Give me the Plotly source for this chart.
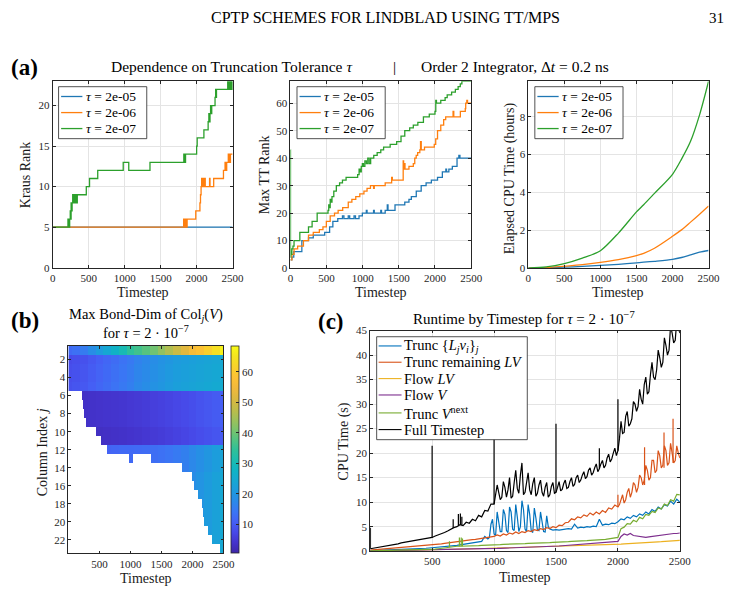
import numpy as np
import plotly.graph_objects as go

W, H = 749, 616
def X(px): return px / W
def Y(py): return 1 - py / H

FONT = "Liberation Serif"
AXC = "#262626"
GRID = "#e4e4e4"

# ---------------- data: panel (a) ----------------
tau_labels = ["2e-05", "2e-06", "2e-07"]
col_a = ["#1f77b4", "#ff7f0e", "#2ca02c"]

# Kraus rank (step changes)
kr_t1 = [0, 2500]
kr_v1 = [5, 5]
kr_t2 = [0, 1820, 1828, 1836, 1844, 1852, 1860, 1868, 1988, 2046, 2054, 2062, 2070, 2080, 2090,
         2100, 2110, 2120, 2180, 2186, 2237, 2373, 2395, 2402, 2418, 2440, 2447, 2454, 2462, 2470, 2500]
kr_v2 = [5, 6, 5, 6, 5, 6, 5, 6, 7, 8, 9, 10, 11, 10, 11,
         10, 11, 10, 11, 10, 11, 12, 13, 12, 13, 14, 13, 14, 13, 14, 14]
kr_t3 = [0, 212, 218, 224, 230, 236, 244, 250, 256, 262, 270, 278, 286, 294, 302, 310, 318, 326, 334, 342,
         354, 467, 512, 626, 980, 1057, 1352, 1822, 1828, 1834, 1840, 1846, 1852, 2000, 2008, 2101, 2160,
         2170, 2178, 2186, 2194, 2202, 2210, 2256, 2264, 2270, 2276, 2283, 2432, 2440, 2448, 2456, 2464,
         2472, 2480, 2488, 2496, 2500]
kr_v3 = [5, 6, 5, 6, 5, 6, 7, 6, 8, 7, 8, 9, 8, 9, 8, 9, 8, 9, 8, 9,
         9, 10, 11, 12, 13, 12, 13, 14, 13, 14, 13, 14, 14, 15, 16, 17, 18,
         19, 18, 19, 20, 19, 20, 21, 22, 21, 22, 22, 23, 22, 23, 22, 23,
         22, 23, 22, 23, 23]

# Max TT rank (step changes)
tt_t1 = [0, 20, 46, 158, 250, 316, 474, 542, 587, 655, 720, 740, 800, 820, 880, 900, 949, 995, 1050, 1060,
         1150, 1160, 1250, 1260, 1311, 1340, 1350, 1447, 1500, 1582, 1640, 1673, 1741, 1809, 1877, 1950,
         2035, 2102, 2150, 2160, 2192, 2240, 2305, 2330, 2345, 2500]
tt_v1 = [3, 4, 6, 10, 11, 12, 13, 15, 17, 18, 19, 18, 19, 18, 19, 18, 19, 20, 21, 20,
         21, 20, 21, 20, 21, 23, 21, 23, 23, 24, 25, 26, 28, 30, 31, 32,
         33, 35, 36, 35, 36, 37, 40, 41, 40, 40]
tt_t2 = [0, 20, 50, 100, 180, 250, 316, 400, 450, 497, 550, 610, 660, 723, 800, 850, 904, 960, 1017, 1060,
         1107, 1150, 1160, 1311, 1400, 1410, 1480, 1560, 1566, 1572, 1585, 1640, 1700, 1720, 1740, 1760,
         1790, 1800, 1810, 1855, 1990, 2010, 2035, 2080, 2120, 2148, 2250, 2260, 2351, 2419, 2425, 2440,
         2450, 2500]
tt_v2 = [3, 5, 7, 8, 10, 12, 13, 14, 15, 17, 19, 20, 21, 22, 24, 25, 26, 27, 28, 29,
         30, 29, 30, 31, 33, 32, 32, 39, 36, 38, 36, 37, 38, 40, 41, 42,
         43, 46, 43, 44, 45, 47, 50, 52, 54, 55, 57, 55, 57, 58, 60, 61,
         60, 60]
tt_t3 = [0, 1, 4, 10, 20, 35, 50, 130, 250, 300, 370, 520, 530, 540, 550, 560, 575, 600, 635, 680,
         720, 770, 930, 950, 965, 980, 995, 1010, 1030, 1050, 1070, 1090, 1110, 1153, 1200, 1250, 1289,
         1380, 1470, 1530, 1582, 1650, 1700, 1763, 1840, 1921, 2000, 2011, 2020, 2080, 2140, 2169, 2230,
         2282, 2320, 2350, 2372, 2500]
tt_v3 = [43, 4, 6, 5, 7, 8, 10, 13, 15, 17, 20, 21, 23, 22, 25, 24, 26, 28, 30, 31,
         32, 33, 34, 36, 35, 37, 38, 37, 39, 38, 40, 38, 40, 41, 42, 43, 44,
         45, 46, 48, 50, 51, 52, 53, 55, 56, 57, 61, 60, 61, 62, 63, 64,
         65, 66, 67, 68, 68]

# Elapsed CPU time (hours)
cpu_t = [0, 250, 500, 750, 1000, 1250, 1500, 1600, 1750, 2000, 2125, 2250, 2375, 2500]
cpu_1 = [0, 0.02, 0.05, 0.09, 0.14, 0.2, 0.28, 0.31, 0.36, 0.46, 0.56, 0.7, 0.84, 0.93]
cpu_2 = [0, 0.03, 0.1, 0.18, 0.3, 0.45, 0.66, 0.78, 1.05, 1.68, 2.02, 2.43, 2.85, 3.28]
cpu_3 = [0, 0.06, 0.24, 0.53, 0.92, 1.85, 2.97, 3.35, 3.95, 4.96, 5.76, 6.7, 8.1, 9.88]

# ---------------- data: panel (b) ----------------
hm_step = 125  # profile sampling (timesteps)
hm_A = [12, 13, 15, 18, 21, 24, 27, 30, 34, 36, 38, 40, 43, 46, 49, 52, 56, 58, 61, 64, 67]
hm_B = [8, 8.5, 9, 10, 11, 12, 13, 14, 15, 16.5, 17.5, 18.5, 19.5, 20.5, 21.5, 22, 22.5, 23, 23.5, 24, 24.5]
hm_C = [3, 3, 3, 3.2, 3.4, 3.6, 3.8, 4, 4.3, 4.6, 5, 5.4, 5.8, 6.2, 6.7, 7.2, 7.8, 8.4, 9, 9.6, 10.2]
hm_D = [11, 11, 11, 11, 11, 11, 11.5, 12, 12, 12.2, 12.4, 12.8, 13.2, 13.8, 14.6, 15.6, 17, 18.5, 20, 21.5, 23]
row_group = ["A", "B", "B", "B", "B", "C", "C", "C", "C", "C", "C",
             "D", "D", "D", "D", "D", "D", "D", "D", "D", "D", "D", "D"]
row_offset = [0, -0.5, 0, 0, 0.5, 0.3, 0.3, 0.3, 0.3, -0.5, -0.5,
              0, 0, 0, 1, 1, 1, 1, 1, 1, 1, 1, 1]
row_start = [0, 0, 0, 0, 0, 221, 237, 263, 289, 447, 516, 616, 974, 1832,
             2000, 2016, 2095, 2147, 2168, 2195, 2263, 2316, 2447]
row13_gap = [1053, 1342]

# ---------------- data: panel (c) ----------------
c_t = np.arange(0, 2501, 25)
c_blue = [0.1, 0.12, 0.15, 0.17, 0.2, 0.22, 0.25, 0.28, 0.3, 0.33,
          0.35, 0.38, 0.4, 0.43, 0.45, 0.5, 0.52, 0.55, 0.6, 0.65,
          0.7, 0.75, 0.8, 0.85, 0.9, 1.0, 1.05, 1.1, 1.2, 1.3,
          1.4, 1.5, 1.55, 1.6, 1.7, 1.8, 2.0, 3.0, 2.5, 5.5,
          3.5, 8.0, 4.0, 8.5, 4.2, 9.0, 4.5, 9.5, 4.0, 10.3,
          4.5, 9.5, 4.2, 8.8, 4.3, 8.0, 4.0, 7.2, 4.5, 4.3,
          4.4, 4.3, 4.4, 4.5, 4.6, 4.5, 5.5, 4.7, 4.9, 4.8,
          5.0, 4.9, 5.1, 5.0, 6.5, 5.3, 5.5, 5.4, 5.7, 5.6,
          6.0, 6.6, 6.4, 7.0, 6.7, 7.3, 7.0, 7.6, 7.3, 8.0,
          7.6, 8.5, 8.1, 9.0, 8.6, 9.5, 9.2, 10.2, 9.6, 10.6,
          10.0]
c_blue_mid_t = np.arange(962.5, 1450, 25)
c_blue_mid = [2.8, 6.5, 3.2, 6.0, 4.0, 7.5, 3.8, 8.0, 4.2, 7.0,
              5.0, 8.5, 4.0, 7.5, 3.8, 6.8, 4.2, 6.0, 3.9, 5.0]
c_orange = [0.2, 0.25, 0.3, 0.35, 0.4, 0.45, 0.5, 0.55, 0.6, 0.65,
            0.7, 0.75, 0.8, 0.85, 0.9, 0.95, 1.0, 1.05, 1.1, 1.15,
            1.2, 1.3, 1.4, 1.5, 1.6, 1.7, 1.8, 1.9, 2.0, 2.1,
            2.1, 2.2, 2.3, 2.35, 2.4, 2.5, 2.6, 2.7, 2.8, 2.9,
            3.0, 3.3, 3.1, 3.5, 3.3, 3.7, 3.5, 3.9, 3.6, 4.0,
            3.8, 4.2, 4.0, 4.4, 4.2, 4.6, 4.4, 4.8, 4.6, 5.0,
            4.8, 5.3, 5.2, 5.8, 5.9, 6.6, 6.4, 7.0, 6.8, 7.4,
            7.1, 7.8, 7.4, 8.0, 7.6, 8.3, 7.9, 8.8, 8.6, 9.4,
            9.0, 10.5, 9.8, 12.0, 11.0, 14.0, 12.0, 15.5, 13.5, 17.5,
            14.5, 18.5, 16.0, 20.5, 17.0, 21.5, 17.5, 22.0, 18.0, 21.5,
            19.0]
c_orange_mid_t = np.arange(2012.5, 2500, 25)
c_orange_mid = [9.5, 11.5, 10.5, 12.8, 12.0, 13.5, 13.0, 15.0, 14.5, 16.5,
                15.0, 18.5, 16.5, 19.5, 17.5, 20.5, 18.0, 19.5, 18.5, 20.0]
c_yellow = [0.02, 0.03, 0.04, 0.05, 0.06, 0.07, 0.08, 0.09, 0.1, 0.11,
            0.12, 0.13, 0.14, 0.15, 0.16, 0.17, 0.18, 0.19, 0.2, 0.21,
            0.22, 0.24, 0.26, 0.28, 0.3, 0.32, 0.33, 0.35, 0.36, 0.38,
            0.4, 0.42, 0.44, 0.46, 0.48, 0.5, 0.52, 0.54, 0.56, 0.58,
            0.6, 0.62, 0.64, 0.66, 0.68, 0.7, 0.72, 0.74, 0.76, 0.78,
            0.8, 0.81, 0.82, 0.83, 0.84, 0.85, 0.86, 0.87, 0.88, 0.89,
            0.9, 0.92, 0.94, 0.96, 0.98, 1.0, 1.02, 1.04, 1.06, 1.08,
            1.1, 1.13, 1.16, 1.19, 1.22, 1.25, 1.28, 1.31, 1.34, 1.37,
            1.4, 1.45, 1.5, 1.55, 1.6, 1.63, 1.66, 1.7, 1.73, 1.76,
            1.8, 1.83, 1.86, 1.9, 1.93, 1.96, 2.0, 2.05, 2.1, 2.15,
            2.2]
c_purple = [0.05, 0.06, 0.07, 0.08, 0.09, 0.1, 0.1, 0.11, 0.12, 0.13,
            0.13, 0.14, 0.15, 0.15, 0.16, 0.17, 0.17, 0.18, 0.19, 0.2,
            0.2, 0.22, 0.23, 0.25, 0.27, 0.28, 0.3, 0.32, 0.34, 0.36,
            0.37, 0.39, 0.4, 0.42, 0.43, 0.45, 0.46, 0.47, 0.48, 0.5,
            0.52, 0.55, 0.58, 0.6, 0.62, 0.65, 0.68, 0.7, 0.73, 0.75,
            0.78, 0.8, 0.83, 0.85, 0.88, 0.9, 0.92, 0.95, 0.97, 1.0,
            1.02, 1.05, 1.1, 1.15, 1.2, 1.22, 1.25, 1.3, 1.35, 1.38,
            1.42, 1.45, 1.5, 1.55, 1.6, 1.65, 1.7, 1.75, 1.8, 1.9,
            2.0, 3.0, 3.5, 3.3, 3.6, 3.2, 3.1, 2.9, 2.8, 2.8,
            2.9, 3.0, 3.1, 3.2, 3.3, 3.4, 3.4, 3.5, 3.6, 3.6,
            3.7]
c_green = [0.05, 0.06, 0.07, 0.08, 0.09, 0.1, 0.11, 0.12, 0.13, 0.14,
           0.15, 0.16, 0.17, 0.18, 0.2, 0.21, 0.22, 0.24, 0.26, 0.28,
           0.3, 0.4, 0.5, 0.6, 0.7, 0.8, 0.85, 0.9, 1.0, 1.0,
           1.0, 1.0, 1.05, 1.1, 1.1, 1.15, 1.2, 1.2, 1.25, 1.3,
           1.3, 1.35, 1.35, 1.4, 1.4, 1.45, 1.45, 1.5, 1.5, 1.55,
           1.55, 1.6, 1.6, 1.65, 1.65, 1.7, 1.7, 1.75, 1.75, 1.8,
           1.8, 1.85, 1.9, 1.9, 1.95, 2.0, 2.0, 2.05, 2.1, 2.1,
           2.15, 2.2, 2.2, 2.25, 2.3, 2.35, 2.4, 2.5, 2.6, 2.7,
           2.8, 4.6, 4.9, 5.6, 5.5, 6.3, 6.0, 6.9, 6.6, 7.5,
           7.3, 8.1, 7.9, 8.8, 8.6, 9.6, 9.3, 10.5, 10.2, 11.6,
           11.5]
c_black = [0.5, 0.6, 0.7, 0.8, 0.9, 1.0, 1.1, 1.2, 1.4, 1.5,
           1.7, 1.8, 2.0, 2.1, 2.2, 2.3, 2.4, 2.5, 2.6, 2.7,
           2.8, 3.1, 3.3, 3.6, 3.8, 4.1, 4.5, 4.8, 5.0, 5.4,
           5.2, 5.9, 5.7, 6.5, 6.2, 7.3, 7.0, 8.3, 8.2, 9.6,
           9.6, 13.5, 10.5, 14.2, 11.0, 15.0, 11.2, 16.5, 11.8, 18.0,
           12.0, 16.0, 11.5, 15.0, 11.8, 14.5, 11.2, 14.0, 11.5, 14.0,
           12.0, 14.2, 12.6, 14.5, 13.0, 15.0, 13.6, 15.5, 14.5, 16.2,
           15.2, 17.0, 16.0, 17.8, 16.8, 18.5, 17.5, 19.8, 18.8, 21.0,
           20.5, 26.5, 24.2, 28.5, 26.0, 30.5, 28.5, 33.0, 30.0, 35.5,
           32.5, 38.5, 35.0, 41.0, 37.5, 43.5, 40.0, 46.0, 42.5, 47.0,
           44.5]
c_black_mid_t = np.arange(1012.5, 2500, 25)
c_black_mid = [11.5, 12.0, 11.0, 13.0, 12.5, 10.8, 14.0, 12.8, 15.5, 11.5,
               14.0, 12.5, 13.8, 11.2, 13.5, 12.0, 13.0, 11.0, 13.2, 11.8,
               13.0, 12.3, 13.8, 12.8, 14.2, 13.2, 15.0, 14.0, 15.5, 14.8,
               16.5, 15.5, 17.0, 16.2, 17.8, 17.0, 19.0, 18.2, 20.0, 19.5,
               23.0, 24.0, 27.5, 25.5, 27.0, 30.0, 29.5, 31.0, 34.0, 32.0,
               36.0, 35.5, 37.0, 39.5, 38.5, 42.0, 41.0, 44.5, 43.0, 45.5]
# isolated one-step spikes (timestep, base, peak)
spk_black_t = [2, 500, 670, 712, 728, 740, 1000, 1500, 1850, 2000]
spk_black_lo = [0.5, 2.8, 4.7, 5.2, 5.4, 5.3, 9.6, 12.0, 16.8, 20.5]
spk_black_hi = [4.8, 21.5, 6.5, 7.6, 7.7, 7.0, 22.9, 26.0, 21.0, 31.0]
spk_orange_t = [2000, 2215, 2372, 2445]
spk_orange_lo = [9.0, 13.5, 17.0, 18.0]
spk_orange_hi = [11.5, 21.2, 24.2, 27.0]
spk_green_t = [640, 720, 735, 745]
spk_green_lo = [0.8, 1.0, 1.0, 1.0]
spk_green_hi = [2.0, 2.8, 2.8, 2.6]

c_labels = ["Trunc {<i>L<sub>j</sub>v<sub>i</sub></i>}<sub><i>j</i></sub>",
            "Trunc remaining <i>LV</i>",
            "Flow <i>LV</i>",
            "Flow <i>V</i>",
            "Trunc <i>V</i><sup>next</sup>",
            "Full Timestep"]
c_colors = ["#0072BD", "#D95319", "#EDB120", "#7E2F8E", "#77AC30", "#000000"]

# ---------------- figure ----------------
fig = go.Figure()

def line(x, y, ax, color, width=1.3, shape="linear"):
    fig.add_trace(go.Scatter(x=x, y=y, mode="lines", xaxis="x" + ax, yaxis="y" + ax,
                             line=dict(color=color, width=width, shape=shape),
                             showlegend=False, hoverinfo="skip"))

def merged(t_main, v_main, t_extra, v_extra):
    tt = np.concatenate([np.asarray(t_main, float), np.asarray(t_extra, float)])
    vv = np.concatenate([np.asarray(v_main, float), np.asarray(v_extra, float)])
    order = np.argsort(tt, kind="stable")
    return tt[order], vv[order]

for t, v, c in zip([kr_t1, kr_t2, kr_t3], [kr_v1, kr_v2, kr_v3], col_a):
    line(t, v, "", c, 1.3, "hv")
for t, v, c in zip([tt_t1, tt_t2, tt_t3], [tt_v1, tt_v2, tt_v3], col_a):
    line(t, v, "2", c, 1.3, "hv")
for v, c in zip([cpu_1, cpu_2, cpu_3], col_a):
    fig.add_trace(go.Scatter(x=cpu_t, y=v, mode="lines", xaxis="x3", yaxis="y3",
                             line=dict(color=c, width=1.3, shape="spline", smoothing=0.8),
                             showlegend=False, hoverinfo="skip"))

# heatmap
prof = {"A": hm_A, "B": hm_B, "C": hm_C, "D": hm_D}
hm_x = np.arange(5, 2500, 10)
rows = list(range(1, 24))
z = []
for j in range(23):
    r = []
    for t in hm_x:
        on = t >= row_start[j]
        if j == 12 and row13_gap[0] <= t < row13_gap[1]:
            on = False
        k = int(round(t / hm_step))
        r.append(prof[row_group[j]][k] + row_offset[j] if on else None)
    z.append(r)

parula = [[0.00, "#3e26a8"], [0.05, "#4433cc"], [0.10, "#4748e8"], [0.15, "#4560f5"],
          [0.20, "#3a76f4"], [0.25, "#2a8ae8"], [0.30, "#1e9ade"], [0.35, "#16a8d2"],
          [0.40, "#0fb4c4"], [0.45, "#1cbcae"], [0.50, "#30c098"], [0.55, "#55c380"],
          [0.60, "#7ec36a"], [0.65, "#a2c058"], [0.70, "#c2bc48"], [0.75, "#ddb840"],
          [0.80, "#f2b93c"], [0.85, "#fdc234"], [0.90, "#f9d22a"], [0.95, "#f4e420"],
          [1.00, "#f9fb14"]]

fig.add_trace(go.Heatmap(x=hm_x, y=rows, z=z, colorscale=parula, zmin=0.4, zmax=68.4,
                         xaxis="x4", yaxis="y4", hoverinfo="skip",
                         colorbar=dict(x=X(233), xanchor="left", xpad=0,
                                       y=Y(558.3), yanchor="bottom", ypad=0,
                                       len=(558.3 - 346.7) / H, lenmode="fraction",
                                       thickness=8, thicknessmode="pixels",
                                       outlinewidth=0.8, outlinecolor=AXC,
                                       tickvals=[10, 20, 30, 40, 50, 60], ticks="inside",
                                       ticklen=3, tickcolor=AXC,
                                       tickfont=dict(family=FONT, size=11, color=AXC))))

# panel (c)
bt, bv = merged(c_t, c_blue, c_blue_mid_t, c_blue_mid)
ot, ov = merged(c_t, c_orange, c_orange_mid_t, c_orange_mid)
kt, kv = merged(c_t, c_black, c_black_mid_t, c_black_mid)
c_series = [(bt, bv), (ot, ov), (c_t, c_yellow), (c_t, c_purple), (c_t, c_green), (kt, kv)]
for (t, v), c in zip(c_series, c_colors):
    line(t, v, "5", c, 1.2)
for ts, lo, hi, c in [(spk_orange_t, spk_orange_lo, spk_orange_hi, c_colors[1]),
                      (spk_green_t, spk_green_lo, spk_green_hi, c_colors[4]),
                      (spk_black_t, spk_black_lo, spk_black_hi, c_colors[5])]:
    xs, ys = [], []
    for t, a, b in zip(ts, lo, hi):
        xs += [t, t, None]
        ys += [a, b, None]
    line(xs, ys, "5", c, 1.2)

# ---------------- axes ----------------
def ax(dom_px, rng, tickvals, anchor, grid=True, horizontal=True):
    if horizontal:
        dom = [X(dom_px[0]), X(dom_px[1])]
    else:
        dom = [Y(dom_px[1]), Y(dom_px[0])]
    return dict(domain=dom, range=rng, tickvals=tickvals, anchor=anchor,
                showline=True, mirror="ticks", linecolor=AXC, linewidth=0.8,
                ticks="inside", ticklen=3, tickcolor=AXC, tickwidth=0.8,
                showgrid=grid, gridcolor=GRID, gridwidth=0.8, zeroline=False,
                tickfont=dict(family=FONT, size=11, color=AXC), fixedrange=True)

xt = [0, 500, 1000, 1500, 2000, 2500]
xt2 = [500, 1000, 1500, 2000, 2500]
fig.update_layout(
    xaxis=ax([50.7, 234.3], [0, 2500], xt, "y"),
    yaxis=ax([76.7, 266.9], [0, 23], [0, 5, 10, 15, 20], "x", horizontal=False),
    xaxis2=ax([293.3, 477.7], [0, 2500], xt, "y2"),
    yaxis2=ax([76.7, 267.3], [0, 68], [0, 10, 20, 30, 40, 50, 60], "x2", horizontal=False),
    xaxis3=ax([536, 720], [0, 2500], xt, "y3"),
    yaxis3=ax([76.7, 267.3], [0, 9.88], [0, 2, 4, 6, 8], "x3", horizontal=False),
    xaxis4=ax([66.7, 225], [0, 2500], xt2, "y4", grid=False),
    yaxis4=ax([346.7, 558.3], [23.5, 0.5], list(range(2, 23, 2)), "x4", grid=False, horizontal=False),
    xaxis5=ax([374.7, 690.7], [0, 2500], xt2, "y5"),
    yaxis5=ax([331, 556], [0, 45], list(range(0, 46, 5)), "x5", horizontal=False),
)

# ---------------- texts ----------------
ann = []
shapes = []
def txt(s, px, py, size=14, xanchor="center", yanchor="middle", angle=0, color="black"):
    ann.append(dict(text=s, x=X(px), y=Y(py), xref="paper", yref="paper", showarrow=False,
                    xanchor=xanchor, yanchor=yanchor, textangle=angle,
                    font=dict(family=FONT, size=size, color=color)))

LBL = "#1a1a1a"
txt("CPTP SCHEMES FOR LINDBLAD USING TT/MPS", 390, 12, 16)
txt("31", 738, 12, 15, xanchor="right")

txt("<b>(a)</b>", 22, 63, 23)
txt("Dependence on Truncation Tolerance <i>τ</i>", 359, 62, 15.5, xanchor="right")
txt("|", 400, 62, 15.5)
txt("Order 2 Integrator, Δ<i>t</i> = 0.2 ns", 424, 62, 15.5, xanchor="left")
txt("Kraus Rank", 23, 172, 14, angle=-90, color=LBL)
txt("Max TT Rank", 267, 172, 14, angle=-90, color=LBL)
txt("Elapsed CPU Time (hours)", 517, 176, 14, angle=-90, color=LBL)
for cx in [142.5, 385.5, 628]:
    txt("Timestep", cx, 292.5, 14, color=LBL)

txt("<b>(b)</b>", 22, 321, 23)
txt("Max Bond-Dim of Col<sub><i>j</i></sub>(<i>V</i>)", 146, 315, 14.5)
txt("for <i>τ</i> = 2 · 10<sup>−7</sup>", 146, 332, 14.5)
txt("Column Index <i>j</i>", 40, 455, 14, angle=-90, color=LBL)
txt("Timestep", 146, 584, 14, color=LBL)

txt("<b>(c)</b>", 335, 322, 23)
txt("Runtime by Timestep for <i>τ</i> = 2 · 10<sup>−7</sup>", 532, 318, 15)
txt("CPU Time (s)", 348, 444, 14, angle=-90, color=LBL)
txt("Timestep", 532.5, 583, 14, color=LBL)

def legend(box, rows_py, labels, colors, lx0, lx1, tx, size, lw):
    x0, y0, x1, y1 = box
    shapes.append(dict(type="rect", xref="paper", yref="paper", x0=X(x0), x1=X(x1),
                       y0=Y(y1), y1=Y(y0), line=dict(color=AXC, width=0.8),
                       fillcolor="white", layer="above"))
    for py, lab, c in zip(rows_py, labels, colors):
        shapes.append(dict(type="line", xref="paper", yref="paper", x0=X(lx0), x1=X(lx1),
                           y0=Y(py), y1=Y(py), line=dict(color=c, width=lw), layer="above"))
        txt(lab, tx, py, size, xanchor="left")

tau_leg = ["<i>τ</i> = " + s for s in tau_labels]
for bx in [56.7, 300.0, 542.7]:
    legend([bx, 82.3, bx + 90, 135.3], [92.3, 108.7, 125.0], tau_leg, col_a,
           bx + 2.6, bx + 24.3, bx + 25.5, 13.5, 1.3)
legend([381.3, 337.3, 535.0, 442.3], [346.7, 363.3, 380.0, 396.7, 415.0, 432.0],
       c_labels, c_colors, 383.3, 406.7, 407.5, 14.5, 1.1)

fig.update_layout(width=W, height=H, margin=dict(l=0, r=0, t=0, b=0),
                  paper_bgcolor="white", plot_bgcolor="white",
                  annotations=ann, shapes=shapes, showlegend=False,
                  font=dict(family=FONT, color="black"))

fig.write_html("out.html")
